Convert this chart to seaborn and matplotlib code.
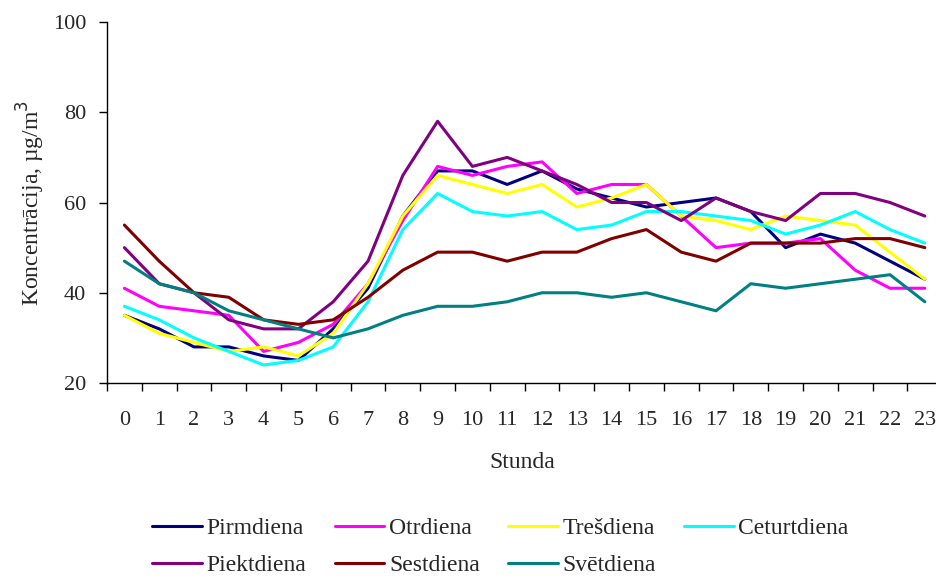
import numpy as np
import pandas as pd
import seaborn as sns
import matplotlib.pyplot as plt

hours = list(range(24))
days = ['Pirmdiena', 'Otrdiena', 'Trešdiena', 'Ceturtdiena',
        'Piektdiena', 'Sestdiena', 'Svētdiena']
colors = ['#000080', '#FF00FF', '#FFFF00', '#00FFFF',
          '#800080', '#800000', '#008080']

pirmdiena = [35, 32, 28, 28, 26, 25, 32, 41, 57, 67, 67, 64, 67, 63, 61, 59, 60, 61, 58, 50, 53, 51, 47, 43]
otrdiena = [41, 37, 36, 35, 27, 29, 33, 42, 56, 68, 66, 68, 69, 62, 64, 64, 57, 50, 51, 51, 52, 45, 41, 41]
tresdiena = [35, 31, 29, 27, 28, 26, 31, 42, 57, 66, 64, 62, 64, 59, 61, 64, 57, 56, 54, 57, 56, 55, 49, 43]
ceturtdiena = [37, 34, 30, 27, 24, 25, 28, 38, 54, 62, 58, 57, 58, 54, 55, 58, 58, 57, 56, 53, 55, 58, 54, 51]
piektdiena = [50, 42, 40, 34, 32, 32, 38, 47, 66, 78, 68, 70, 67, 64, 60, 60, 56, 61, 58, 56, 62, 62, 60, 57]
sestdiena = [55, 47, 40, 39, 34, 33, 34, 39, 45, 49, 49, 47, 49, 49, 52, 54, 49, 47, 51, 51, 51, 52, 52, 50]
svetdiena = [47, 42, 40, 36, 34, 32, 30, 32, 35, 37, 37, 38, 40, 40, 39, 40, 38, 36, 42, 41, 42, 43, 44, 38]

series = [pirmdiena, otrdiena, tresdiena, ceturtdiena, piektdiena, sestdiena, svetdiena]
df = pd.DataFrame({
    'Stunda': hours * len(days),
    'value': np.concatenate(series),
    'day': np.repeat(days, len(hours)),
})

sns.set_style('white')
plt.rcParams['font.family'] = ['Liberation Serif', 'DejaVu Serif']

fig = plt.figure(figsize=(9.37, 5.79), dpi=100)
ax = fig.add_axes([0.1142, 0.3385, 0.8858, 0.6235])

sns.lineplot(data=df, x='Stunda', y='value', hue='day', hue_order=days,
             palette=colors, linewidth=2.2, ax=ax)

# Excel-style category axis: tick marks between categories, labels centred
ax.set_xlim(-0.5, 23.35)
ax.set_ylim(20, 100)
ax.set_yticks([20, 40, 60, 80, 100])
ax.set_xticks(np.arange(-0.5, 23.5, 1))
ax.set_xticklabels([])
ax.set_xticks(hours, minor=True)
ax.set_xticklabels([str(h) for h in hours], minor=True)
ax.tick_params(axis='x', which='major', direction='out', length=6, width=1, color='black', bottom=True)
ax.tick_params(axis='x', which='minor', length=0, labelsize=16, pad=20, bottom=True)
ax.tick_params(axis='y', direction='out', length=6, width=1, color='black', labelsize=16, pad=9, left=True)

for side in ['top', 'right']:
    ax.spines[side].set_visible(False)
for side in ['left', 'bottom']:
    ax.spines[side].set_color('black')
    ax.spines[side].set_linewidth(1)

ax.set_xlabel('Stunda', fontsize=17, labelpad=16)
ax.set_ylabel('Koncentrācija, µg/m$^3$', fontsize=17, labelpad=4)

# legend filled row by row (matplotlib fills columns first)
handles, labels = ax.get_legend_handles_labels()
ax.legend_.remove()
order = [0, 4, 1, 5, 2, 6, 3]
fig.legend([handles[i] for i in order], [labels[i] for i in order],
           loc='center', bbox_to_anchor=(0.534, 0.056), ncol=4,
           frameon=False, fontsize=17, handlelength=2.1, handletextpad=0.2,
           columnspacing=1.2, labelspacing=0.66, borderpad=0.2)

plt.savefig('out.png', dpi=100)
